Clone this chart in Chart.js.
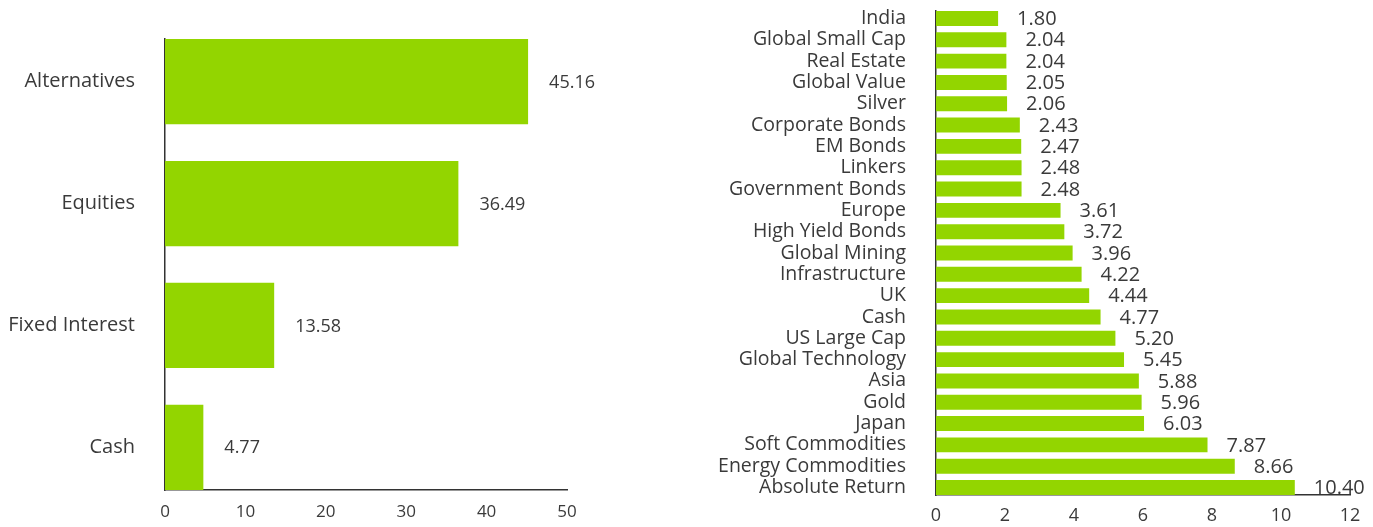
<!DOCTYPE html>
<html>
<head>
<meta charset="utf-8">
<script src="https://cdn.jsdelivr.net/npm/chart.js@4.4.1/dist/chart.umd.min.js"></script>
<style>
  html, body { margin: 0; padding: 0; background: #fff; }
  #wrap { position: relative; width: 1373px; height: 527px; }
  .box { position: absolute; top: 0; height: 527px; }
  #leftBox { left: 0; width: 620px; }
  #rightBox { left: 640px; width: 733px; }
</style>
</head>
<body>
<div id="wrap">
  <div class="box" id="leftBox"><canvas id="allocChart"></canvas></div>
  <div class="box" id="rightBox"><canvas id="assetChart"></canvas></div>
</div>
<script>
// --- Data ---
const allocLabels = ['Alternatives', 'Equities', 'Fixed Interest', 'Cash'];
const allocValues = [45.16, 36.49, 13.58, 4.77];
const allocTicks = [0, 10, 20, 30, 40, 50];

const assetLabels = [
  'India', 'Global Small Cap', 'Real Estate', 'Global Value', 'Silver',
  'Corporate Bonds', 'EM Bonds', 'Linkers', 'Government Bonds', 'Europe',
  'High Yield Bonds', 'Global Mining', 'Infrastructure', 'UK', 'Cash',
  'US Large Cap', 'Global Technology', 'Asia', 'Gold', 'Japan',
  'Soft Commodities', 'Energy Commodities', 'Absolute Return'
];
const assetValues = [
  1.80, 2.04, 2.04, 2.05, 2.06,
  2.43, 2.47, 2.48, 2.48, 3.61,
  3.72, 3.96, 4.22, 4.44, 4.77,
  5.20, 5.45, 5.88, 5.96, 6.03,
  7.87, 8.66, 10.40
];
const assetTicks = [0, 2, 4, 6, 8, 10, 12];

const GREEN = '#93d500';
const TEXT = '#3a3a3a';
const AXIS = '#333333';
const FONT = "'Open Sans', sans-serif";

// --- Value labels at the bar ends ---
const valueLabels = {
  id: 'valueLabels',
  afterDatasetsDraw(chart, args, opts) {
    const ctx = chart.ctx;
    const meta = chart.getDatasetMeta(0);
    ctx.save();
    ctx.fillStyle = TEXT;
    ctx.font = `${opts.size}px ${FONT}`;
    ctx.textAlign = 'left';
    ctx.textBaseline = 'middle';
    meta.data.forEach((bar, i) => {
      const v = chart.data.datasets[0].data[i].x;
      ctx.fillText(v.toFixed(2), bar.x + opts.gap, bar.y + 1);
    });
    ctx.restore();
  }
};

function makeChart(id, labels, values, ticks, cfg) {
  const n = labels.length;
  return new Chart(document.getElementById(id), {
    type: 'bar',
    data: {
      datasets: [{
        data: values.map((v, i) => ({ x: v, y: i })),
        backgroundColor: GREEN,
        borderWidth: 0,
        categoryPercentage: 1,
        barPercentage: 0.7
      }]
    },
    options: {
      indexAxis: 'y',
      responsive: true,
      maintainAspectRatio: false,
      animation: false,
      layout: { padding: { top: cfg.top, right: cfg.right, left: 0, bottom: 0 } },
      plugins: {
        legend: { display: false },
        tooltip: { enabled: false },
        valueLabels: { size: cfg.valueSize, gap: cfg.gap }
      },
      scales: {
        x: {
          type: 'linear',
          min: ticks[0],
          max: ticks[ticks.length - 1],
          afterBuildTicks: (s) => { s.ticks = ticks.map(t => ({ value: t })); },
          afterFit: (s) => { s.height = cfg.xHeight; s.paddingLeft = 0; s.paddingRight = 0; },
          grid: { display: false, drawTicks: false },
          border: { display: true, color: AXIS, width: 1.5 },
          ticks: { color: TEXT, font: { family: FONT, size: cfg.tickSize }, padding: cfg.tickPad, maxRotation: 0 }
        },
        y: {
          type: 'linear',
          reverse: true,
          offset: false,
          bounds: 'data',
          min: -0.35,
          max: n - 1 + 0.35,
          afterBuildTicks: (s) => { s.ticks = labels.map((_, i) => ({ value: i })); },
          afterFit: (s) => { s.width = cfg.yWidth; s.paddingTop = 0; s.paddingBottom = 0; },
          grid: { display: false, drawTicks: false, offset: false },
          border: { display: true, color: AXIS, width: 1.5 },
          ticks: {
            color: TEXT,
            font: { family: FONT, size: cfg.labelSize },
            padding: cfg.labelPad,
            autoSkip: false,
            callback: (v) => labels[v]
          }
        }
      }
    },
    plugins: [valueLabels]
  });
}

makeChart('allocChart', allocLabels, allocValues, allocTicks, {
  top: 39, right: 53, xHeight: 37, yWidth: 165,
  tickSize: 17, tickPad: 12, labelSize: 20, labelPad: 30,
  valueSize: 18, gap: 21
});

makeChart('assetChart', assetLabels, assetValues, assetTicks, {
  top: 11, right: 23, xHeight: 32, yWidth: 296,
  tickSize: 18, tickPad: 10, labelSize: 19.5, labelPad: 30,
  valueSize: 20, gap: 19
});
</script>
</body>
</html>
